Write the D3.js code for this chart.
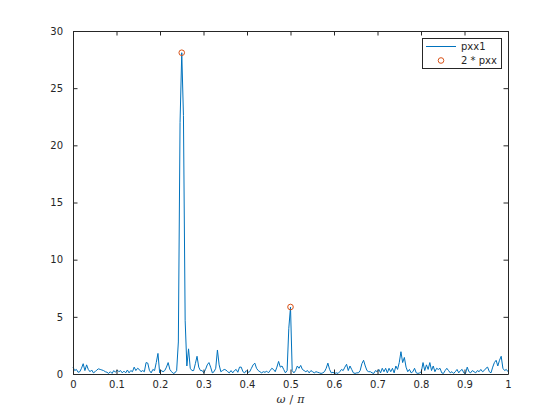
<!DOCTYPE html>
<html><head><meta charset="utf-8">
<script src="https://cdn.jsdelivr.net/npm/d3@7"></script>
<style>
html,body{margin:0;padding:0;background:#fff;}
svg{display:block;}
text{font-family:"DejaVu Sans",sans-serif;}
</style></head>
<body><svg id="c" width="560" height="420"></svg>
<script>
// Periodogram values (pxx1), evenly spaced normalized frequencies 0..1 (257 bins)
const pxx1 = [
0.6,0.3,0.4,0.15,0.2,0.5,0.9,0.3,0.8,0.4,
0.2,0.35,0.1,0.2,0.35,0.45,0.4,0.35,0.3,0.2,
0.15,0.05,0.2,0.05,0.3,0.15,0.35,0.2,0.3,0.1,
0.25,0.1,0.35,0.1,0.3,0.2,0.6,0.3,0.5,0.4,
0.2,0.3,0.2,1.0,0.95,0.3,0.1,0.4,0.3,1.0,
1.8,0.1,0.3,0.2,0.3,0.6,1.0,0.4,0.2,0.05,
0.1,0.3,2.8,22.0,28.1,22.6,4.7,0.7,2.2,0.5,
0.3,0.3,0.9,1.55,0.6,0.3,0.3,0.1,0.4,0.8,
1.0,0.6,0.1,0.2,0.5,2.1,0.8,0.2,0.3,0.4,
0.35,0.2,0.1,0.3,0.1,0.3,0.4,0.15,0.6,0.6,
0.2,0.1,0.3,0.15,0.2,0.5,0.8,0.95,0.5,0.3,
0.2,0.1,0.2,0.15,0.25,0.1,0.3,0.5,0.4,0.2,
0.6,1.1,0.6,0.7,0.4,0.1,0.3,4.0,5.86,0.3,
0.1,0.3,0.7,0.5,0.75,0.4,0.3,0.2,0.3,0.1,
0.3,0.2,0.1,0.2,0.15,0.1,0.05,0.1,0.2,0.5,
0.95,0.4,0.1,0.15,0.05,0.1,0.05,0.2,0.4,0.3,
0.6,0.85,0.3,0.7,0.4,0.1,0.05,0.1,0.1,0.3,
0.9,1.2,0.7,0.3,0.2,0.2,0.1,0.05,0.3,0.2,
0.4,0.1,0.5,0.2,0.5,0.1,0.5,0.2,0.5,0.1,
0.7,0.4,1.0,1.95,1.0,1.45,0.6,0.2,0.4,0.1,
0.2,0.5,0.1,0.05,0.1,0.2,1.0,0.3,0.8,0.4,
1.0,0.3,0.7,0.2,0.5,0.4,0.5,0.1,0.05,0.3,
0.5,0.3,0.1,0.2,0.05,0.2,0.4,0.1,0.3,0.4,
0.1,0.05,0.6,0.2,0.1,0.3,0.2,0.1,0.3,0.2,
0.4,0.2,0.3,0.5,0.6,0.2,0.1,0.6,1.0,1.2,
0.7,1.2,1.55,0.5,0.3,0.4,0.2
];
const freqs = pxx1.map((_, i) => i / (pxx1.length - 1));

// Markers for 2 * pxx
const markerFreqs = [0.25, 0.5];
const markerVals = [28.1, 5.86];

const xTicks = [0,0.1,0.2,0.3,0.4,0.5,0.6,0.7,0.8,0.9,1];
const yTicks = [0,5,10,15,20,25,30];
const legendLabels = ["pxx1", "2 * pxx"];

const L = 73, R = 508, T = 31, B = 374;
const svg = d3.select("#c");
const x = d3.scaleLinear().domain([0,1]).range([L,R]);
const y = d3.scaleLinear().domain([0,30]).range([B,T]);
const axisCol = "#262626";
const tickLen = 4.5;

// data line
const line = d3.line().x((d,i)=>x(freqs[i])).y(d=>y(d));
svg.append("path").datum(pxx1)
  .attr("d", line).attr("fill","none")
  .attr("stroke","#0072BD").attr("stroke-width",1)
  .attr("stroke-linejoin","miter");

// markers
svg.append("g").selectAll("circle").data(markerVals).join("circle")
  .attr("cx",(d,i)=>x(markerFreqs[i])).attr("cy",d=>y(d)).attr("r",2.8)
  .attr("fill","none").attr("stroke","#D95319").attr("stroke-width",1);

// axes
const gx = svg.append("g").attr("transform",`translate(0,${B})`)
  .call(d3.axisBottom(x).tickValues(xTicks).tickSizeInner(-tickLen).tickSizeOuter(0).tickPadding(9)
    .tickFormat(d=>d3.format("~g")(d)));
const gxt = svg.append("g").attr("transform",`translate(0,${T})`)
  .call(d3.axisTop(x).tickValues(xTicks).tickSizeInner(-tickLen).tickSizeOuter(0).tickFormat(""));
const gy = svg.append("g").attr("transform",`translate(${L},0)`)
  .call(d3.axisLeft(y).tickValues(yTicks).tickSizeInner(-tickLen).tickSizeOuter(0).tickPadding(10));
const gyr = svg.append("g").attr("transform",`translate(${R},0)`)
  .call(d3.axisRight(y).tickValues(yTicks).tickSizeInner(-tickLen).tickSizeOuter(0).tickFormat(""));
[gx,gxt,gy,gyr].forEach(g=>{
  g.select(".domain").attr("stroke",axisCol).attr("stroke-width",1);
  g.selectAll(".tick line").attr("stroke",axisCol);
  g.selectAll("text").attr("fill",axisCol).style("font-size","10px").style("font-family","DejaVu Sans");
});
gx.selectAll("text").attr("dy","0.71em").attr("y",7);

// x label
const xl = svg.append("text").attr("x",(L+R)/2).attr("y",403).attr("text-anchor","middle")
  .attr("fill",axisCol).style("font-size","11px").style("font-family","DejaVu Serif");
xl.append("tspan").style("font-style","italic").text("ω");
xl.append("tspan").attr("dx",4).text("/");
xl.append("tspan").attr("dx",4).style("font-style","italic").text("π");

// legend
const lg = svg.append("g");
lg.append("rect").attr("x",422.5).attr("y",38.5).attr("width",79).attr("height",30)
  .attr("fill","#fff").attr("stroke",axisCol).attr("stroke-width",1);
lg.append("line").attr("x1",426).attr("x2",456).attr("y1",46.5).attr("y2",46.5)
  .attr("stroke","#0072BD").attr("stroke-width",1);
lg.append("circle").attr("cx",441).attr("cy",60.5).attr("r",2.8)
  .attr("fill","none").attr("stroke","#D95319").attr("stroke-width",1);
lg.selectAll("text.lt").data(legendLabels).join("text").attr("class","lt")
  .attr("x",461).attr("y",(d,i)=>50+i*14).attr("fill",axisCol)
  .style("font-size","10px").text(d=>d);
</script></body></html>
